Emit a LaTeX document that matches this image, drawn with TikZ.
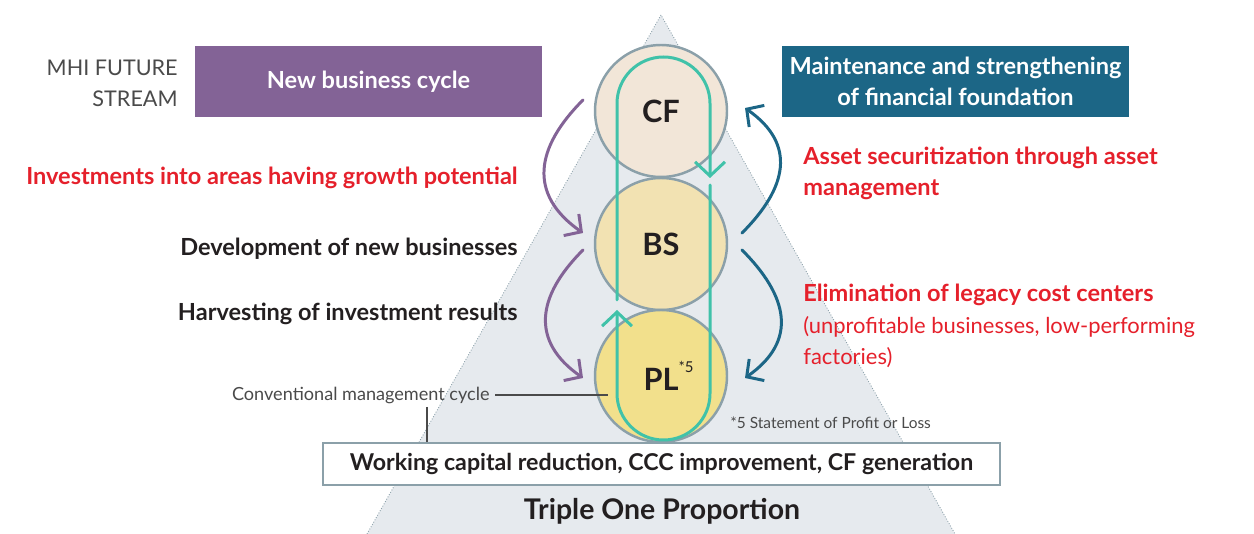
\documentclass[tikz,border=0pt]{standalone}
\usepackage{fontspec}
\setmainfont{Lato}
\usetikzlibrary{arrows.meta}
\definecolor{tri}{HTML}{E6EAEE}
\definecolor{ring}{HTML}{8BA0A9}
\definecolor{cfc}{HTML}{F2E6D8}
\definecolor{bsc}{HTML}{F2E2B2}
\definecolor{plc}{HTML}{F2E08C}
\definecolor{loopc}{HTML}{40C2A9}
\definecolor{purp}{HTML}{836396}
\definecolor{navy}{HTML}{1C6686}
\definecolor{hot}{HTML}{E5202B}
\definecolor{ink}{HTML}{231F20}
\definecolor{greyc}{HTML}{4A4A4A}
\begin{document}
\begin{tikzpicture}[x=0.02cm, y=0.02cm, >={Straight Barb[length=7pt,width=15pt]},
  stage/.style={circle, draw=ring, line width=1.4pt, minimum size=2.64cm, inner sep=0pt, font=\fontsize{17.5}{20}\selectfont\bfseries, text=ink},
  banner/.style={minimum width=6.94cm, minimum height=1.42cm, text=white, align=center, font=\fontsize{13.4}{17.6}\selectfont\bfseries},
  lbl/.style={font=\fontsize{13.4}{17.6}\selectfont\bfseries, inner sep=0pt},
  swing/.style={->, line width=1.7pt, line cap=round, looseness=1.3},
  cyc/.style={line width=1.7pt, loopc, line cap=round, -{Straight Barb[length=8pt,width=17pt]}}]
\useasboundingbox (0,0) rectangle (1254,534);
% pyramid
\fill[tri] (661,519) -- (367,0) -- (955,0) -- cycle;
\draw[ring, densely dotted, line width=0.5pt] (367,0) -- (661,519) -- (955,0);
% stages
\node[stage, fill=cfc] (cf) at (661,423) {CF};
\node[stage, fill=bsc] (bs) at (661,290) {BS};
\node[stage, fill=plc] (pl) at (661,158) {PL\rlap{\raisebox{1.1ex}{\fontsize{8.5}{8}\selectfont\mdseries *5}}};
% conventional cycle
\draw[cyc] (617,234) -- (617,430.5) arc (180:0:46.5) -- (710,356);
\draw[cyc] (710,349) -- (710,140.5) arc (0:-180:46.5) -- (617,224);
% banners
\node[banner, fill=purp] (newbiz) at (368.5,452.5) {New business cycle};
\node[banner, fill=navy] (found) at (955.5,452.5) {Maintenance and strengthening\\of financial foundation};
\node[anchor=east, align=right, text=greyc, font=\fontsize{12.3}{17.6}\selectfont, inner sep=0pt] (mhi) at (178,451) {MHI FUTURE\\STREAM};
% curved arrows
\coordinate (p1) at (583,434); \coordinate (p2) at (583,301);
\coordinate (p3) at (583,284); \coordinate (p4) at (583,156);
\coordinate (n1) at (742,301); \coordinate (n2) at (745,426);
\coordinate (n3) at (742,284); \coordinate (n4) at (745,156);
\draw[swing, purp] (p1) to[out=225, in=145] (p2);
\draw[swing, purp] (p3) to[out=225, in=145] (p4);
\draw[swing, navy] (n1) to[out=45, in=-35] (n2);
\draw[swing, navy] (n3) to[out=-45, in=35] (n4);
% labels
\node[lbl, anchor=east, text=hot] (invest) at (518,356) {Investments into areas having growth potential};
\node[lbl, anchor=east, text=ink] (develop) at (518,285) {Development of new businesses};
\node[lbl, anchor=east, text=ink] (harvest) at (518,220) {Harvesting of investment results};
\node[lbl, anchor=north west, align=left, text=hot] (asset) at (803,387) {Asset securitization through asset\\management};
\node[lbl, anchor=west, text=hot] (elim) at (803,239) {Elimination of legacy cost centers};
\node[anchor=north west, align=left, text=hot, inner sep=0pt, font=\fontsize{12.5}{17.6}\selectfont] (unprof) at (803,218) {(unprofitable businesses, low-performing\\factories)};
% working capital box
\node[draw=ring, fill=white, line width=1.4pt, minimum width=13.54cm, minimum height=0.84cm, font=\fontsize{13.2}{14}\selectfont\bfseries, text=ink] (wc) at (661.5,70) {Working capital reduction, CCC improvement, CF generation};
\node[anchor=east, text=greyc, inner sep=0pt, font=\fontsize{10.3}{11}\selectfont] (conv) at (490,139) {Conventional management cycle};
\coordinate (convend) at (608,139);
\draw[greyc, line width=0.6pt] (conv.east) ++(5,0) -- (convend);
\draw[greyc, line width=0.6pt] (427,127) -- (wc.north -| 427,0);
\node[anchor=west, text=greyc, inner sep=0pt, font=\fontsize{8.8}{10}\selectfont] (note) at (730,111) {*5 Statement of Profit or Loss};
\node[text=ink, font=\fontsize{16.2}{18}\selectfont\bfseries] (title) at (662,23) {Triple One Proportion};
\end{tikzpicture}
\end{document}
